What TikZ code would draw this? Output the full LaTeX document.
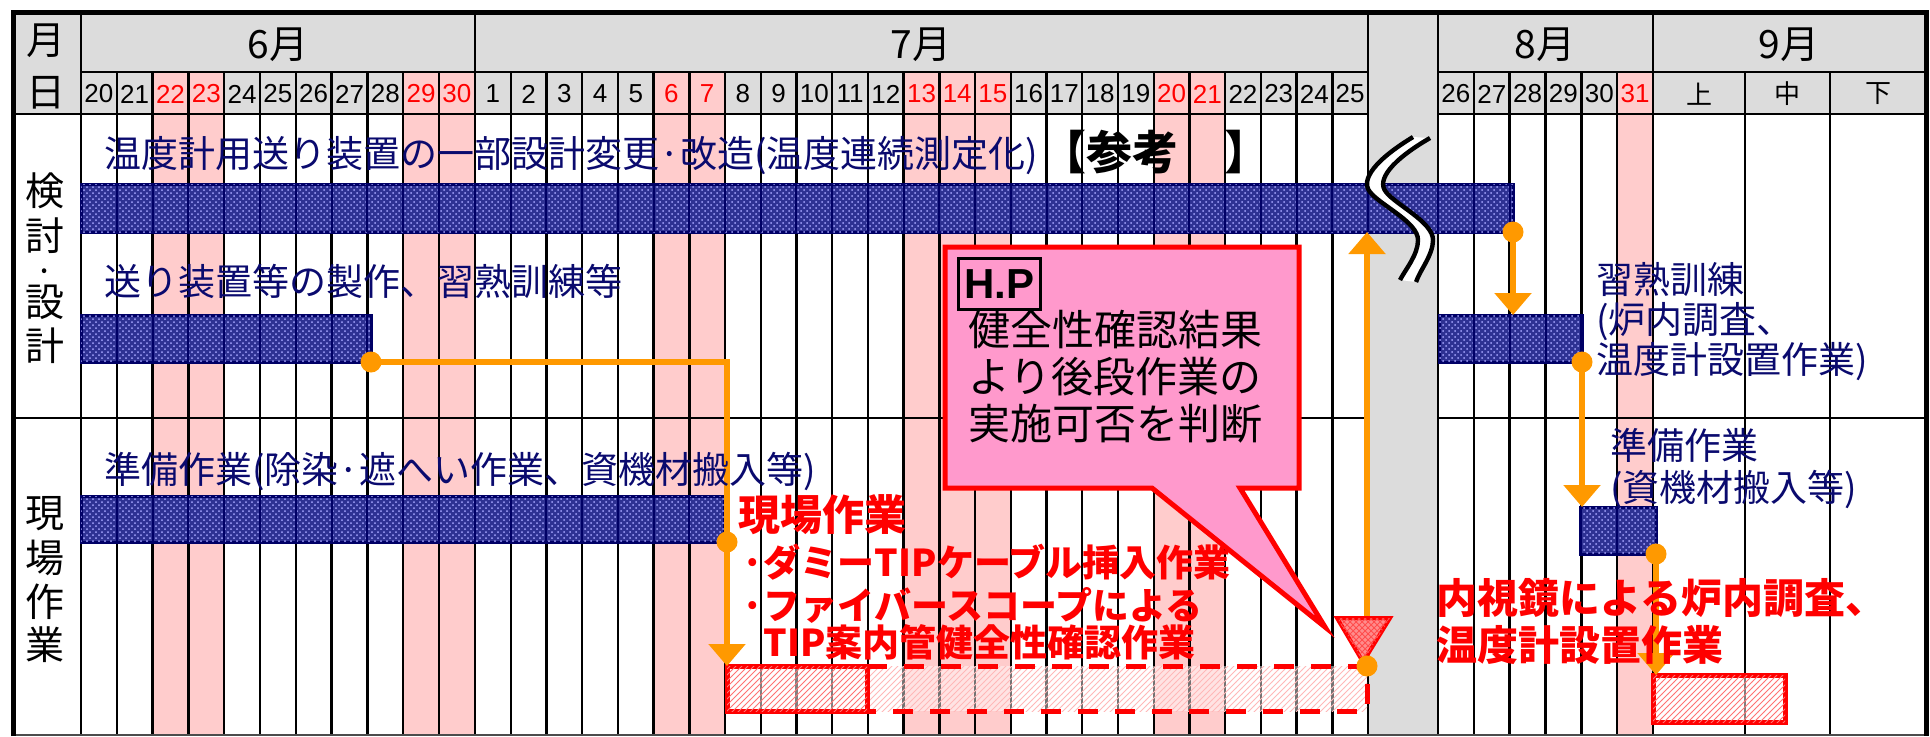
\documentclass[tikz,border=0pt]{standalone}
\usepackage{fontspec}
\setmainfont{Noto Sans CJK JP}
\newfontfamily\arialf{Liberation Sans}
\usetikzlibrary{arrows.meta,patterns,fit,calc}
\definecolor{hdr}{HTML}{DCDCDC}
\definecolor{wkd}{HTML}{FFCCCC}
\definecolor{navytxt}{HTML}{0A0A6E}
\definecolor{barline}{HTML}{000066}
\definecolor{barfill}{HTML}{2E3193}
\definecolor{orng}{HTML}{FF9900}
\definecolor{calloutc}{HTML}{FF99CC}
\newcommand{\fsz}[2]{\fontsize{#1pt}{#2pt}\selectfont}
\tikzset{
  gl/.style={line width=1.2pt, black},
  daylbl/.style={font=\arialf\fsz{13}{13}, inner sep=0},
  bigl/.style={font=\fsz{19.5}{20}, inner sep=0},
  navy/.style={text=navytxt, font=\fsz{18.5}{20}, inner sep=0, anchor=west},
  redt/.style={text=red, font=\bfseries\fsz{18.5}{20}, inner sep=0, anchor=west},
  bar/.style={draw=barline, line width=1.5pt, fill=barfill, inner sep=0, outer sep=0,
    postaction={pattern=crosshatch dots, pattern color=blue!35!white}},
  hatchbox/.style={draw=red, line width=2.5pt, inner sep=0, outer sep=0, fill=white, fill opacity=0.5,
    postaction={pattern=north east lines, pattern color=red!55, fill opacity=1}},
  conn/.style={draw=orng, line width=3pt},
  arr/.style={conn, -{Triangle[width=18pt,length=11pt]}},
  dot/.style={circle, fill=orng, inner sep=0, minimum size=10.5pt},
}
\begin{document}
\begin{tikzpicture}[x=0.5pt,y=-0.5pt]
\useasboundingbox (0,0) rectangle (1930,736);
% backgrounds
\fill[hdr] (12,12) rectangle (1926,114);
\fill[hdr] (1368,12) rectangle (1438,736);
\foreach \a in {2,3,9,10} \fill[wkd] ({81+\a*35.8},72) rectangle ({81+(\a+1)*35.8},735);
\foreach \d in {6,7,13,14,15,20,21} \fill[wkd] ({475+(\d-1)*35.72},72) rectangle ({475+\d*35.72},735);
\fill[wkd] (1617.2,72) rectangle (1653,735);
% grid
\foreach \a in {1,...,10} \draw[gl] ({81+\a*35.8},72) -- ++(0,663);
\foreach \a in {1,...,24} \draw[gl] ({475+\a*35.72},72) -- ++(0,663);
\foreach \a in {1,...,5} \draw[gl] ({1438+\a*35.83},72) -- ++(0,663);
\foreach \x in {1745,1830} \draw[gl] (\x,72) -- (\x,735);
\foreach \x in {81,475,1368,1438,1653} \draw[gl] (\x,12) -- (\x,735);
\draw[gl] (81,72) -- (1368,72) (1438,72) -- (1926,72);
\draw[gl] (12,114) -- (1368,114) (1438,114) -- (1926,114);
\draw[gl] (12,418) -- (1368,418) (1438,418) -- (1926,418);
\draw[line width=1pt, black!70] (12,735) -- (1926,735);
\draw[line width=2.5pt] (13,736) -- (13,12) -- (1926,12) -- (1926,736);
% header texts
\node[bigl] (hm) at (46,41) {月};
\node[bigl] (hd) at (46,93) {日};
\node[bigl] (m6) at (278,45) {6月};
\node[bigl] (m7) at (921,45) {7月};
\node[bigl] (m8) at (1545,45) {8月};
\node[bigl] (m9) at (1789,45) {9月};
\foreach \d/\c [count=\i from 0] in {20/black,21/black,22/red,23/red,24/black,25/black,26/black,27/black,28/black,29/red,30/red}
  \node[daylbl, text=\c] (jun\d) at ({81+(\i+0.5)*35.8},94) {\d};
\foreach \d/\c [count=\i from 0] in {1/black,2/black,3/black,4/black,5/black,6/red,7/red,8/black,9/black,10/black,11/black,12/black,13/red,14/red,15/red,16/black,17/black,18/black,19/black,20/red,21/red,22/black,23/black,24/black,25/black}
  \node[daylbl, text=\c] (jul\d) at ({475+(\i+0.5)*35.72},94) {\d};
\foreach \d/\c [count=\i from 0] in {26/black,27/black,28/black,29/black,30/black,31/red}
  \node[daylbl, text=\c] (aug\d) at ({1438+(\i+0.5)*35.83},94) {\d};
\node[font=\fsz{13}{13}, inner sep=0] (s1) at (1699,94) {上};
\node[font=\fsz{13}{13}, inner sep=0] (s2) at (1787,94) {中};
\node[font=\fsz{13}{13}, inner sep=0] (s3) at (1878,94) {下};
% row labels
\node[bigl] (k1) at (45,191) {検};
\node[bigl] (k2) at (45,236) {討};
\node[font=\fsz{9}{9}, inner sep=0] (k3) at (45,273) {•};
\node[bigl] (k4) at (45,302) {設};
\node[bigl] (k5) at (45,346) {計};
\node[bigl] (g1) at (45,514) {現};
\node[bigl] (g2) at (45,558) {場};
\node[bigl] (g3) at (45,602) {作};
\node[bigl] (g4) at (45,645) {業};
% bars
\node[bar, fit={(81,184) (1513,232)}] (b1) {};
\node[bar, fit={(81,315) (371,362)}] (b2) {};
\node[bar, fit={(81,496) (724,542)}] (b3) {};
\node[bar, fit={(1439,315) (1582,362)}] (b4) {};
\node[bar, fit={(1580,507) (1656,554)}] (b5) {};
% grid lines seen through the bars
\begin{scope}
\clip (b1.south west) rectangle (b1.north east) (b2.south west) rectangle (b2.north east)
      (b3.south west) rectangle (b3.north east) (b4.south west) rectangle (b4.north east)
      (b5.south west) rectangle (b5.north east);
\foreach \a in {1,...,10} \draw[line width=1pt, barline] ({81+\a*35.8},114) -- ++(0,621);
\foreach \a in {1,...,24} \draw[line width=1pt, barline] ({475+\a*35.72},114) -- ++(0,621);
\foreach \a in {1,...,5} \draw[line width=1pt, barline] ({1438+\a*35.83},114) -- ++(0,621);
\foreach \x in {475,1368,1438,1617.2} \draw[line width=1pt, barline] (\x,114) -- (\x,735);
\end{scope}
% red work boxes
\node[inner sep=0, outer sep=0, fit={(867,666) (1367,711)}, fill=white, fill opacity=0.45,
  postaction={pattern=north east lines, pattern color=red!28, fill opacity=1}] (db) {};
\draw[red, line width=2.5pt, dash pattern=on 10pt off 8.5pt] (db.north west) -- (db.north east) -- (db.south east) -- (db.south west);
\node[hatchbox, fit={(727,666) (867,711)}] (rb1) {};
\node[hatchbox, fit={(1653,675) (1785,722)}] (rb2) {};
% break symbol
\fill[white] (1413,137) .. controls (1375,160) and (1360,180) .. (1370,192) .. controls (1380,205) and (1418,222) .. (1418,240) .. controls (1418,255) and (1405,270) .. (1400,280) -- (1416,282) .. controls (1420,270) and (1433,255) .. (1433,240) .. controls (1433,222) and (1396,205) .. (1386,192) .. controls (1376,180) and (1392,160) .. (1430,138) -- cycle;
\draw[line width=2.2pt] (1413,137) .. controls (1375,160) and (1360,180) .. (1370,192) .. controls (1380,205) and (1418,222) .. (1418,240) .. controls (1418,255) and (1405,270) .. (1400,280);
\draw[line width=2.2pt] (1430,138) .. controls (1392,160) and (1376,180) .. (1386,192) .. controls (1396,205) and (1433,222) .. (1433,240) .. controls (1433,255) and (1420,270) .. (1416,282);
% callout
\draw[red, line width=2.5pt, fill=calloutc, line join=miter] (945,247) -- (1299,247) -- (1299,488) -- (1240,488) -- (1325,627) -- (1152,488) -- (945,488) -- cycle;
\node[draw=black, line width=1.5pt, fill=calloutc, inner sep=0, minimum width=41pt, minimum height=25.5pt, anchor=north west, font=\arialf\bfseries\fsz{21}{21}] (hp) at (957,257) {H.P};
\node[anchor=west, align=left, inner sep=0, font=\fsz{21}{23.5}] (ct) at (968,377) {健全性確認結果\\より後段作業の\\実施可否を判断};
% connectors
\draw[conn] (b2.south east) -| ($(rb1.north west)+(0,-40)$);
\draw[arr] ($(rb1.north west)+(0,-40)$) -- (rb1.north west);
\draw[arr] (db.north east) -- (db.north east |- b1.south);
\draw[arr] (b1.south east) -- (b1.south east |- b4.north);
\draw[arr] (b4.south east) -- (b4.south east |- b5.north);
\draw[arr] (b5.south east) -- (b5.south east |- rb2.north);
% hold point triangle
\draw[red, line width=2pt, fill=red!45, line join=miter, postaction={pattern=crosshatch, pattern color=red!70}] (1337,618) -- (1390,618) -- (1363,662) -- cycle;
\node[dot] (d1) at (b2.south east) {};
\node[dot] (d2) at (b3.south east -| rb1.north west) {};
\node[dot] (d3) at (db.north east) {};
\node[dot] (d4) at (b1.south east) {};
\node[dot] (d5) at (b4.south east) {};
\node[dot] (d6) at (b5.south east) {};
% task texts
\node[navy] (t1) at (104,156) {温度計用送り装置の一部設計変更·改造(温度連続測定化)};
\node[anchor=west, inner sep=0, font=\bfseries\fsz{23}{23}] (ref) at (1040,152) {【参考　】};
\node[navy] (t2) at (104,281) {送り装置等の製作、習熟訓練等};
\node[navy] (t3) at (104,471) {準備作業(除染·遮へい作業、資機材搬入等)};
\node[navy, align=left, font=\fsz{18.5}{20}] (t4) at (1596,322) {習熟訓練\\(炉内調査、\\温度計設置作業)};
\node[navy, align=left, font=\fsz{18.5}{21}] (t5) at (1610,468) {準備作業\\(資機材搬入等)};
\node[redt, font=\bfseries\fsz{21}{21}] (r0) at (738,515) {現場作業};
\node[redt] (r1) at (741,562) {·ダミーTIPケーブル挿入作業};
\node[redt] (r2) at (741,605) {·ファイバースコープによる};
\node[redt] (r3) at (763,642) {TIP案内管健全性確認作業};
\node[redt, font=\bfseries\fsz{20.5}{20.5}] (r4) at (1436,598) {内視鏡による炉内調査、};
\node[redt, font=\bfseries\fsz{20.5}{20.5}] (r5) at (1436,645) {温度計設置作業};
\end{tikzpicture}
\end{document}
